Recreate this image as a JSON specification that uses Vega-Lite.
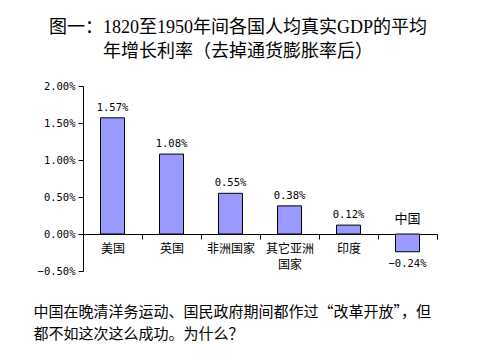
{
  "$schema": "https://vega.github.io/schema/vega-lite/v6.json",
  "width": 354,
  "height": 185,
  "autosize": "none",
  "padding": {"left": 83, "top": 86, "right": 43, "bottom": 89},
  "background": "white",
  "config": {"view": {"stroke": null}, "axis": {"labelOverlap": false}},
  "title": {
    "text": ["图一：1820至1950年间各国人均真实GDP的平均", "年增长利率（去掉通货膨胀率后）"],
    "font": "Liberation Serif, Noto Sans CJK SC",
    "fontSize": 18,
    "fontWeight": "normal",
    "lineHeight": 24,
    "anchor": "middle",
    "dx": -22,
    "offset": 20,
    "color": "black"
  },
  "data": {
    "values": [
      {"country": "美国", "value": 0.0157},
      {"country": "英国", "value": 0.0108},
      {"country": "非洲国家", "value": 0.0055},
      {"country": "其它亚洲国家", "value": 0.0038},
      {"country": "印度", "value": 0.0012},
      {"country": "中国", "value": -0.0024}
    ]
  },
  "encoding": {
    "x": {
      "field": "country",
      "type": "nominal",
      "sort": null,
      "scale": {"paddingInner": 0, "paddingOuter": 0},
      "axis": {
        "offset": -37,
        "domainColor": "black",
        "tickColor": "black",
        "tickBand": "extent",
        "tickSize": 5,
        "labelAngle": 0,
        "labelOverlap": false,
        "labelFont": "Noto Sans CJK SC",
        "labelFontSize": 12,
        "labelColor": "black",
        "labelPadding": 4,
        "labelLineHeight": 16,
        "labelExpr": "datum.value == '中国' ? '' : (datum.value == '其它亚洲国家' ? ['其它亚洲', '国家    '] : datum.value)",
        "title": ["中国在晚清洋务运动、国民政府期间都作过“改革开放”，但", "都不如这次这么成功。为什么？"],
        "titleFont": "Noto Sans CJK SC",
        "titleFontSize": 15,
        "titleFontWeight": "normal",
        "titleColor": "black",
        "titleAlign": "left",
        "titleAnchor": "start",
        "titleBaseline": "top",
        "titleLineHeight": 22,
        "titleX": -50,
        "titleY": 70
      }
    },
    "y": {
      "field": "value",
      "type": "quantitative",
      "scale": {"domain": [-0.005, 0.02], "nice": false, "zero": false},
      "axis": {
        "format": ".2%",
        "values": [-0.005, 0, 0.005, 0.01, 0.015, 0.02],
        "labelOverlap": false,
        "grid": false,
        "domainColor": "black",
        "tickColor": "black",
        "tickSize": 5,
        "labelFont": "DejaVu Sans Mono",
        "labelFontSize": 10.5,
        "labelColor": "black",
        "labelPadding": 3,
        "title": null
      }
    }
  },
  "layer": [
    {
      "mark": {"type": "bar", "fill": "#9999FF", "stroke": "black", "strokeWidth": 1, "width": 24}
    },
    {
      "transform": [{"filter": "datum.value > 0"}],
      "mark": {"type": "text", "baseline": "bottom", "dy": -5, "font": "DejaVu Sans Mono", "fontSize": 10.5, "color": "black"},
      "encoding": {
        "text": {"field": "value", "type": "quantitative", "format": ".2%"}
      }
    },
    {
      "transform": [{"filter": "datum.value < 0"}],
      "mark": {"type": "text", "baseline": "top", "dy": 7, "font": "DejaVu Sans Mono", "fontSize": 10.5, "color": "black"},
      "encoding": {
        "text": {"field": "value", "type": "quantitative", "format": ".2%"}
      }
    },
    {
      "transform": [{"filter": "datum.country == '中国'"}],
      "mark": {"type": "text", "baseline": "middle", "dy": -15, "font": "Noto Sans CJK SC", "fontSize": 13, "color": "black"},
      "encoding": {
        "y": {"datum": 0, "type": "quantitative"},
        "text": {"field": "country", "type": "nominal"}
      }
    }
  ]
}
